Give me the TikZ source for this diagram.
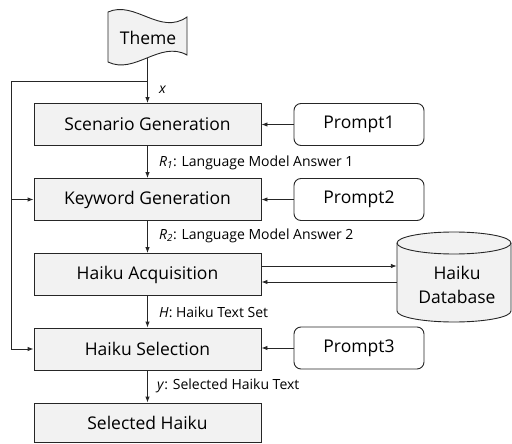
\documentclass[tikz,border=0pt]{standalone}
\usepackage{fontspec}
\setmainfont{Open Sans}
\usetikzlibrary{arrows.meta}
\definecolor{boxfill}{HTML}{F2F2F2}
\definecolor{linec}{HTML}{262626}
\tikzset{
  proc/.style={draw=linec, fill=boxfill, line width=0.9pt, minimum width=227pt, minimum height=42pt, inner sep=0pt, font=\fontsize{17.5}{19}\selectfont},
  prm/.style={draw=linec, fill=white, rounded corners=7pt, line width=0.9pt, minimum width=130pt, minimum height=42pt, inner sep=0pt, font=\fontsize{17.5}{19}\selectfont},
  conn/.style={draw=linec, line width=0.9pt, -{Latex[length=6pt,width=4.5pt]}},
  lbl/.style={anchor=west, inner sep=0pt, font=\fontsize{14}{16}\selectfont},
  bigt/.style={inner sep=0pt, font=\fontsize{17.5}{19}\selectfont},
}
\begin{document}
\begin{tikzpicture}[x=1pt, y=-1pt]
\useasboundingbox (0,0) rectangle (512,444);
% Theme flag
\draw[line width=0.9pt, draw=linec, fill=boxfill] (108,12) .. controls (135,0) and (160,36) .. (187,17) -- (187,55) .. controls (160,40) and (135,75) .. (108,62) -- cycle;
\node[minimum width=79pt, minimum height=44pt, inner sep=0pt] (theme) at (147.5,36) {};
\node[bigt] (themet) at (148,38) {Theme};
% main boxes
\node[proc] (scen) at (147.5,124.5) {Scenario Generation};
\node[proc] (kw) at (147.5,199.5) {Keyword Generation};
\node[proc] (acq) at (147.5,274.5) {Haiku Acquisition};
\node[proc] (sel) at (147.5,349) {Haiku Selection};
\node[proc, minimum height=39pt] (out) at (147.5,422.5) {Selected Haiku};
% prompts
\node[prm] (p1) at (359,124.5) {Prompt1};
\node[prm] (p2) at (359,199.5) {Prompt2};
\node[prm] (p3) at (359,348) {Prompt3};
% database cylinder
\draw[line width=0.9pt, draw=linec, fill=boxfill] (397,243) -- (397,311) arc[start angle=180, end angle=0, x radius=57, y radius=11] -- (511,243) arc[start angle=0, end angle=-180, x radius=57, y radius=11] -- cycle;
\draw[line width=0.9pt, draw=linec] (397,243) arc[start angle=180, end angle=0, x radius=57, y radius=11];
\node[minimum width=114pt, minimum height=90pt, inner sep=0pt] (db) at (454,277) {};
\node[bigt] (dbt1) at (457,273) {Haiku};
\node[bigt] (dbt2) at (457,297) {Database};
% connectors
\coordinate (split) at (147.5,81);
\coordinate (lc) at (11,81);
\draw[conn] (theme.south) -- (scen.north);
\draw[conn] (split) -- (lc) |- (sel.west);
\draw[conn] (lc |- kw.west) -- (kw.west);
\draw[conn] (scen.south) -- (kw.north);
\draw[conn] (kw.south) -- (acq.north);
\draw[conn] (acq.south) -- (sel.north);
\draw[conn] (sel.south) -- (out.north);
\draw[conn] (p1.west) -- (scen.east);
\draw[conn] (p2.west) -- (kw.east);
\draw[conn] (p3.west) -- (sel.east |- p3.west);
\draw[conn] (acq.east |- 0,266) -- (db.west |- 0,266);
\draw[conn] (db.west |- 0,282) -- (acq.east |- 0,282);
% labels
\node[lbl] (lx) at (159,90) {\textit{x}};
\node[lbl] (l1) at (159,163) {\textit{R}$_{\mathit 1}$: Language Model Answer 1};
\node[lbl] (l2) at (159,236) {\textit{R}$_{\mathit 2}$: Language Model Answer 2};
\node[lbl] (l3) at (159,312) {\textit{H}: Haiku Text Set};
\node[lbl] (l4) at (157,386) {\textit{y}: Selected Haiku Text};
\end{tikzpicture}
\end{document}
